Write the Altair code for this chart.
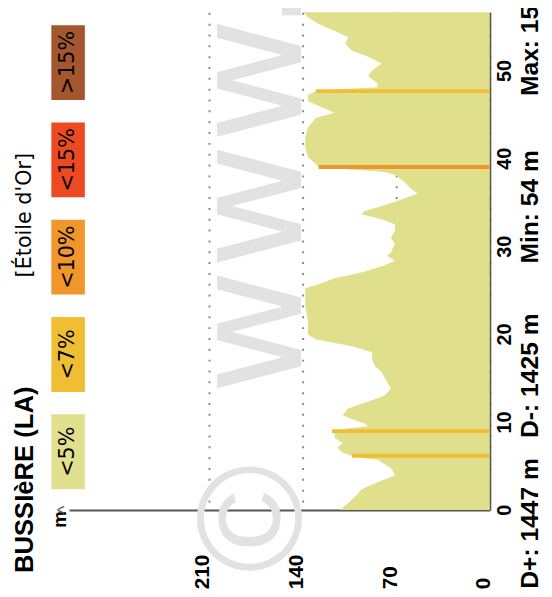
import altair as alt
import pandas as pd

# ---------------- data ----------------
# elevation profile: distance (km) and elevation (m)
km = [0.00, 0.90, 1.79, 2.35, 3.14, 3.92, 4.60, 5.04, 5.72, 5.94, 6.17, 6.50, 7.06, 7.62,
      8.18, 8.63, 8.97, 9.30, 9.53, 9.87, 10.09, 10.76, 11.55, 12.33, 13.00, 13.79, 14.57,
      15.70, 16.37, 17.15, 17.94, 18.61, 19.39, 19.96, 21.41, 23.32, 25.22, 25.56, 26.35,
      27.02, 27.80, 28.36, 28.92, 29.26, 30.27, 30.94, 31.73, 32.51, 33.07, 33.63, 33.97,
      34.75, 35.43, 35.99, 36.55, 37.33, 38.12, 38.45, 38.79, 39.01, 39.35, 40.13, 41.26,
      42.38, 43.50, 44.62, 45.18, 45.74, 46.52, 47.20, 47.65, 47.87, 48.09, 48.54, 49.33,
      50.00, 50.78, 51.57, 52.24, 53.03, 53.81, 54.48, 55.27, 56.05, 56.73, 57.51]
elev = [112, 105, 99, 96, 84, 71, 73, 77, 84, 97, 103, 110, 114, 110,
        116, 116, 118, 105, 91, 94, 99, 110, 106, 91, 79, 74, 77,
        81, 86, 88, 88, 103, 130, 136, 136, 138, 138, 130, 116,
        96, 79, 71, 77, 74, 71, 74, 71, 71, 81, 96, 94,
        77, 64, 54, 59, 64, 71, 79, 108, 128, 130, 136, 138,
        138, 136, 130, 116, 125, 136, 136, 130, 112, 84, 84, 91,
        88, 81, 91, 103, 108, 106, 116, 128, 136, 140, 138]

# steep sections (coloured by gradient class)
steep_start = [5.94, 8.74, 38.79, 47.42]
steep_end = [6.39, 9.19, 39.24, 47.87]
steep_elev = [103, 118, 128, 130]
steep_class = ["<7%", "<7%", "<10%", "<7%"]

# gradient classes (legend)
classes = ["<5%", "<7%", "<10%", "<15%", ">15%"]
class_colors = ["#E0E08E", "#F0BE32", "#F0962A", "#EE4A22", "#A4562E"]

dist_ticks = [0, 10, 20, 30, 40, 50]
elev_ticks = [0, 70, 140, 210]

title_text = "BUSSIèRE (LA)"
subtitle_text = "[Étoile d'Or]"
stats = ["D+: 1447 m", "D-: 1425 m", "Min: 54 m", "Max: 15"]
copyright_text = "©"
watermark_text = "www."

# ---------------- layout ----------------
W, H = 427, 505
X_MAX = 314.6
Y_MAX = 56.61
AREA = "#E0DF8C"
FONT = "Liberation Sans"

xscale = alt.Scale(domain=[0, X_MAX], reverse=True, nice=False, zero=False)
yscale = alt.Scale(domain=[0, Y_MAX], nice=False, zero=False)
cscale = alt.Scale(domain=classes, range=class_colors)

xaxis = alt.Axis(orient="bottom", values=elev_ticks, labelAngle=270, labelAlign="left",
                 labelBaseline="alphabetic", labelPadding=80, ticks=False, tickSize=0,
                 domainColor="#555555", domainWidth=2, grid=True, gridDash=[2, 9],
                 gridColor="#888888", gridWidth=2, title=None, labelFont=FONT,
                 labelFontSize=21, labelFontWeight="bold", labelColor="black",
                 labelFlush=False, labelOverlap=False, labelBound=False)
yaxis = alt.Axis(orient="right", values=dist_ticks, labelAngle=270, labelAlign="center",
                 labelBaseline="top", labelPadding=5, ticks=False, tickSize=0,
                 domainColor="#555555", domainWidth=2, grid=False, title=None,
                 labelFont=FONT, labelFontSize=20, labelFontWeight="bold",
                 labelColor="black", labelFlush=False, labelOverlap=False, labelBound=False)

prof = pd.DataFrame({"km": km, "elev": elev})
area = alt.Chart(prof).mark_area(orient="horizontal", color=AREA, clip=True).encode(
    y=alt.Y("km:Q", scale=yscale, axis=yaxis),
    x=alt.X("elev:Q", scale=xscale, axis=xaxis),
)

steep = pd.DataFrame({"s": steep_start, "e": steep_end, "el": steep_elev, "cls": steep_class})
stripes = alt.Chart(steep).mark_rect(clip=True).encode(
    y=alt.Y("s:Q", scale=yscale, axis=yaxis),
    y2="e:Q",
    x=alt.X("el:Q", scale=xscale, axis=xaxis),
    x2=alt.datum(0),
    color=alt.Color("cls:N", scale=cscale, legend=None),
)


def label(text, x, y, size, weight="normal", align="left", baseline="alphabetic",
          color="black", font=FONT):
    return alt.Chart(pd.DataFrame({"t": [text]})).mark_text(
        angle=270, align=align, baseline=baseline, fontSize=size, fontWeight=weight,
        color=color, font=font,
    ).encode(x=alt.value(x), y=alt.value(y), text="t:N")


mark_c = label(copyright_text, 235, 569, 150, color="#E2E2E2")
mark_w = label(watermark_text, 235, 388, 156, color="#E2E2E2", font="DejaVu Sans")
title = label(title_text, -37, 569, 26, weight="bold")
subtitle = label(subtitle_text, -39, 269, 21, font="DejaVu Sans")
unit = label("m", -3, 523, 19, weight="bold")
arrow = label("^", -4, 505, 18, align="center", baseline="middle", color="#555555")
stats_y = [585, 432, 255, 85]
stat_layers = [label(s, 476, yy, 25, weight="bold") for s, yy in zip(stats, stats_y)]

main = alt.layer(mark_c, mark_w, area, stripes, title, subtitle, unit, arrow, *stat_layers)

leg = pd.DataFrame({"cls": classes})
legend_y = alt.Y("cls:N", axis=None,
                 scale=alt.Scale(domain=classes[::-1], paddingInner=0.2304,
                                 paddingOuter=0.1722, align=0.382))
leg_rect = alt.Chart(leg).mark_rect().encode(
    y=legend_y, x=alt.value(-18), x2=alt.value(16),
    color=alt.Color("cls:N", scale=cscale, legend=None),
)
leg_text = alt.Chart(leg).mark_text(
    angle=270, align="center", baseline="middle", fontSize=21, font="DejaVu Sans",
    color="black",
).encode(y=legend_y, x=alt.value(-1), text="cls:N")
legend = alt.layer(leg_rect, leg_text)

chart = alt.layer(main, legend).resolve_scale(y="independent").properties(
    width=W, height=H,
    autosize=alt.AutoSizeParams(type="none"),
    padding={"left": 62, "top": 0, "right": 55, "bottom": 84},
    background="white",
).configure_view(stroke="transparent")

chart.save("out.html", embed_options={"renderer": "svg", "actions": False})
